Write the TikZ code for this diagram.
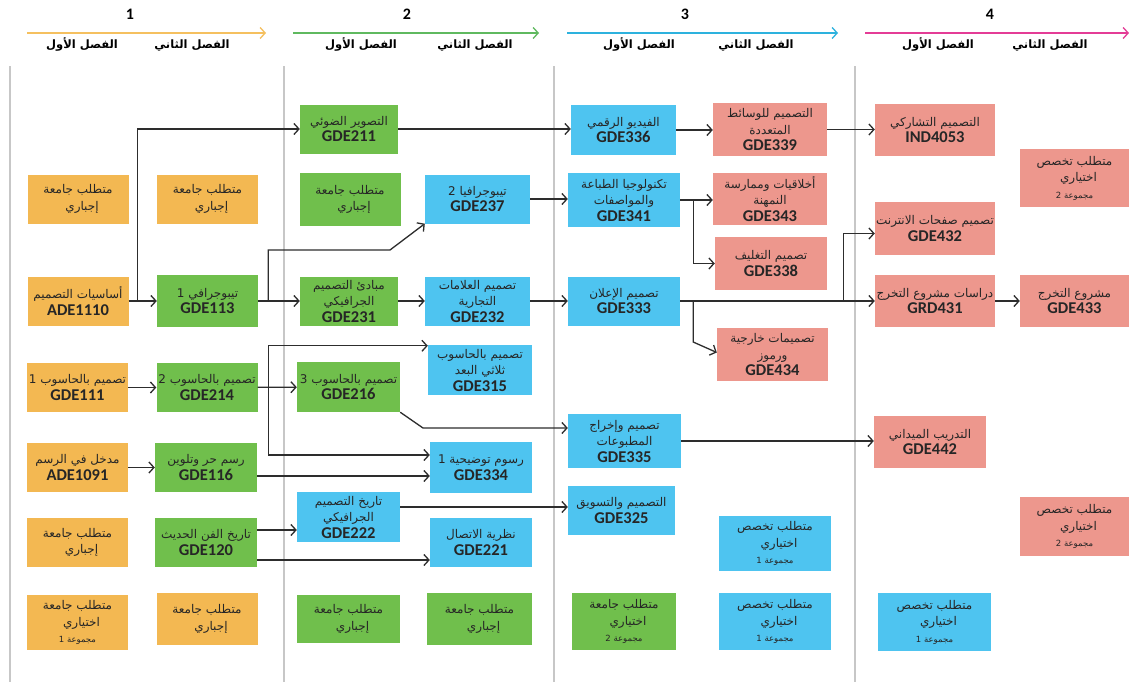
\documentclass[tikz,border=0pt]{standalone}
\usepackage{fontspec}
\setmainfont{DejaVu Sans}
\newfontfamily\arabicfont[Script=Arabic]{DejaVu Sans}
\newfontfamily\codefont{Carlito}
\usetikzlibrary{arrows.meta,positioning,calc}
\TeXXeTstate=1

\definecolor{yrone}{RGB}{243,184,82}
\definecolor{yrtwo}{RGB}{112,191,76}
\definecolor{yrthree}{RGB}{78,196,240}
\definecolor{yrfour}{RGB}{237,151,141}
\definecolor{hdrone}{RGB}{245,192,95}
\definecolor{hdrtwo}{RGB}{95,185,95}
\definecolor{hdrthree}{RGB}{45,178,222}
\definecolor{hdrfour}{RGB}{228,60,150}
\definecolor{linegray}{RGB}{45,45,45}

\newcommand\ar[1]{\hbox{\arabicfont\beginR #1\endR}}
% lines that end in a tailed final yeh
\newcommand\art[1]{\hbox{\kern8pt\arabicfont\beginR #1\endR}}
\newcommand\grp[1]{\hbox{\arabicfont\fontsize{8.5}{10}\selectfont\beginR #1\endR}}
\newcommand\code[1]{\hbox{\codefont\bfseries\fontsize{16.5}{17}\selectfont #1}}

\begin{document}
\begin{tikzpicture}[
  x=1pt, y=-1pt,
  font=\fontsize{12}{16.5}\selectfont,
  block/.style={minimum width=101pt, minimum height=49pt, align=center, inner sep=1pt, text=black!85},
  yone/.style={block, fill=yrone},
  ytwo/.style={block, fill=yrtwo},
  ythree/.style={block, fill=yrthree},
  yfour/.style={block, fill=yrfour},
  line/.style={draw=linegray, line width=1.3pt},
  arrow/.style={line, -{Straight Barb[length=5pt,width=11pt]}},
  hdr/.style={line width=1.3pt, -{Straight Barb[length=5pt,width=11pt]}},
  year/.style={font=\codefont\bfseries\fontsize{16}{16}\selectfont},
  term/.style={font=\arabicfont\bfseries\fontsize{11.5}{13}\selectfont, text height=9pt, text depth=3pt},
  sep/.style={draw=black!22, line width=1.2pt}
]
\useasboundingbox (0,0) rectangle (1129,688);
\fill[white] (0,0) rectangle (1129,688);

% ----- YEARS AND TERMS -----
\node[year] (n1) at (130,14) {1};
\node[year] (n2) at (407,14) {2};
\node[year] (n3) at (685,14) {3};
\node[year] (n4) at (990,14) {4};
\coordinate (s1) at (27,33);  \coordinate (t1) at (266,33);
\coordinate (s2) at (293,33); \coordinate (t2) at (539,33);
\coordinate (s3) at (567,33); \coordinate (t3) at (838,33);
\coordinate (s4) at (865,33); \coordinate (t4) at (1129,33);
\draw[hdr, draw=hdrone] (s1) -- (t1);
\draw[hdr, draw=hdrtwo] (s2) -- (t2);
\draw[hdr, draw=hdrthree] (s3) -- (t3);
\draw[hdr, draw=hdrfour] (s4) -- (t4);
\node[term] (f1a) at (82,45) {\ar{الفصل الأول}};
\node[term] (f1b) at (192,45) {\ar{الفصل الثاني}};
\node[term] (f2a) at (361,45) {\ar{الفصل الأول}};
\node[term] (f2b) at (475,45) {\ar{الفصل الثاني}};
\node[term] (f3a) at (639,45) {\ar{الفصل الأول}};
\node[term] (f3b) at (756,45) {\ar{الفصل الثاني}};
\node[term] (f4a) at (938,45) {\ar{الفصل الأول}};
\node[term] (f4b) at (1050,45) {\ar{الفصل الثاني}};

% ----- COLUMN SEPARATORS -----
\foreach \x in {10,284,554,855}
  \draw[sep] (\x,66) -- (\x,682);

% ----- YEAR 1 -----
\node[yone] (a1) at (78,199) {\ar{متطلب جامعة}\\\art{إجباري}};
\node[yone] (b1) at (207.5,199) {\ar{متطلب جامعة}\\\art{إجباري}};
\node[yone] (a2) at (78,301) {\ar{أساسيات التصميم}\\\code{ADE1110}};
\node[ytwo, minimum height=52pt] (b2) at (207.5,301) {\ar{تيبوجرافي 1}\\\code{GDE113}};
\node[yone] (a3) at (77.5,387.5) {\ar{تصميم بالحاسوب 1}\\\code{GDE111}};
\node[ytwo] (b3) at (207,387.5) {\ar{تصميم بالحاسوب 2}\\\code{GDE214}};
\node[yone] (a4) at (77.5,467.5) {\ar{مدخل في الرسم}\\\code{ADE1091}};
\node[ytwo, minimum width=102pt] (b4) at (206,467.5) {\ar{رسم حر وتلوين}\\\code{GDE116}};
\node[yone] (a5) at (77.5,542.5) {\ar{متطلب جامعة}\\\art{إجباري}};
\node[ytwo, minimum width=102pt] (b5) at (206,542.5) {\ar{تاريخ الفن الحديث}\\\code{GDE120}};
\node[yone, minimum height=55pt] (a6) at (77.5,622.5) {\ar{متطلب جامعة}\\\art{اختياري}\\\grp{مجموعة 1}};
\node[yone, minimum height=52pt] (b6) at (207,619) {\ar{متطلب جامعة}\\\art{إجباري}};

% ----- YEAR 2 -----
\node[ytwo, minimum width=98pt] (c1) at (349,129) {\ar{التصوير الضوئي}\\\code{GDE211}};
\node[ytwo, minimum height=53pt] (c2) at (350,199.5) {\ar{متطلب جامعة}\\\art{إجباري}};
\node[ythree, minimum width=105pt] (d2) at (477.5,199) {\ar{تيبوجرافيا 2}\\\code{GDE237}};
\node[ytwo, minimum width=98pt] (c3) at (349,301) {\ar{مبادئ التصميم}\\\ar{الجرافيكي}\\\code{GDE231}};
\node[ythree, minimum width=105pt] (d3) at (477.5,301) {\ar{تصميم العلامات}\\\ar{التجارية}\\\code{GDE232}};
\node[ythree, minimum width=104pt, minimum height=50pt] (d4) at (480,370) {\ar{تصميم بالحاسوب}\\\ar{ثلاثي البعد}\\\code{GDE315}};
\node[ytwo, minimum width=103pt, minimum height=50pt] (c4) at (348.5,387) {\ar{تصميم بالحاسوب 3}\\\code{GDE216}};
\node[ythree, minimum width=102pt, minimum height=51pt] (d5) at (481,467.5) {\ar{رسوم توضيحية 1}\\\code{GDE334}};
\node[ythree, minimum width=103pt, minimum height=50pt] (c5) at (348.5,517) {\ar{تاريخ التصميم}\\\ar{الجرافيكي}\\\code{GDE222}};
\node[ythree, minimum width=102pt] (d6) at (481,542.5) {\ar{نظرية الاتصال}\\\code{GDE221}};
\node[ytwo, minimum width=103pt, minimum height=48pt] (c6) at (348.5,619) {\ar{متطلب جامعة}\\\art{إجباري}};
\node[ytwo, minimum width=105pt, minimum height=52pt] (d7) at (479.5,619) {\ar{متطلب جامعة}\\\art{إجباري}};

% ----- YEAR 3 -----
\node[ythree, minimum width=105pt, minimum height=50pt] (e1) at (623.5,130) {\ar{الفيديو الرقمي}\\\code{GDE336}};
\node[yfour, minimum width=114pt, minimum height=53pt] (f1) at (770,129.5) {\ar{التصميم للوسائط}\\\ar{المتعددة}\\\code{GDE339}};
\node[ythree, minimum width=112pt, minimum height=54pt] (e2) at (624,200) {\ar{تكنولوجيا الطباعة}\\\ar{والمواصفات}\\\code{GDE341}};
\node[yfour, minimum width=114pt, minimum height=52pt] (f2) at (770,199) {\ar{أخلاقيات وممارسة}\\\ar{النمهنة}\\\code{GDE343}};
\node[yfour, minimum width=112pt, minimum height=53pt] (f3) at (771,263.5) {\ar{تصميم التغليف}\\\code{GDE338}};
\node[ythree, minimum width=112pt] (e3) at (624,301) {\ar{تصميم الإعلان}\\\code{GDE333}};
\node[yfour, minimum width=111pt, minimum height=53pt] (f4) at (772.5,354.5) {\ar{تصميمات خارجية}\\\ar{ورموز}\\\code{GDE434}};
\node[ythree, minimum width=113pt, minimum height=54pt] (e4) at (624.5,441) {\ar{تصميم وإخراج}\\\ar{المطبوعات}\\\code{GDE335}};
\node[ythree, minimum width=107pt] (e5) at (621.5,510.5) {\ar{التصميم والتسويق}\\\code{GDE325}};
\node[ythree, minimum width=112pt, minimum height=55pt] (f5) at (775,543.5) {\ar{متطلب تخصص}\\\art{اختياري}\\\grp{مجموعة 1}};
\node[ytwo, minimum width=104pt, minimum height=57pt] (e6) at (624,621.5) {\ar{متطلب جامعة}\\\art{اختياري}\\\grp{مجموعة 2}};
\node[ythree, minimum width=112pt, minimum height=57pt] (f6) at (775,621.5) {\ar{متطلب تخصص}\\\art{اختياري}\\\grp{مجموعة 1}};

% ----- YEAR 4 -----
\node[yfour, minimum width=120pt, minimum height=52pt] (g1) at (935,130) {\ar{التصميم التشاركي}\\\code{IND4053}};
\node[yfour, minimum width=109pt, minimum height=58pt] (h1) at (1074.5,178) {\ar{متطلب تخصص}\\\art{اختياري}\\\grp{مجموعة 2}};
\node[yfour, minimum width=120pt, minimum height=53pt] (g2) at (935,228.5) {\ar{تصميم صفحات الانترنت}\\\code{GDE432}};
\node[yfour, minimum width=120pt, minimum height=52pt] (g3) at (935,301) {\ar{دراسات مشروع التخرج}\\\code{GRD431}};
\node[yfour, minimum width=109pt, minimum height=52pt] (h3) at (1074.5,301) {\ar{مشروع التخرج}\\\code{GDE433}};
\node[yfour, minimum width=112pt, minimum height=52pt] (g4) at (930,442) {\ar{التدريب الميداني}\\\code{GDE442}};
\node[yfour, minimum width=109pt, minimum height=59pt] (h4) at (1074.5,526.5) {\ar{متطلب تخصص}\\\art{اختياري}\\\grp{مجموعة 2}};
\node[ythree, minimum width=113pt, minimum height=58pt] (g5) at (934.5,622) {\ar{متطلب تخصص}\\\art{اختياري}\\\grp{مجموعة 1}};

% ----- FROM YEAR 1 -----
\draw[arrow] (a2) -- (b2);
\draw[arrow] (a3) -- (b3);
\draw[arrow] (a4) -- (b4);
\coordinate (j1) at ($(a2.east)+(9,0)$);
\draw[arrow] (j1) |- (c1);
\draw[arrow] (b2) -- (c3);
\coordinate (j2) at ($(b2.east)+(10,0)$);
\coordinate (k2) at (390,250);
\draw[arrow] (j2) |- (k2) -- (d2.south west);
\draw[arrow] (b3) -- (c4);
\coordinate (j3) at ($(b3.east)+(11,0)$);
\draw[arrow] (j3) |- ([yshift=-1pt]d4.north west);
\draw[arrow] (j3) |- ([yshift=12.5pt]d5.west);
\draw[arrow] ([yshift=-8.5pt]b4.east) -- ([yshift=-8.5pt]d5.west);
\draw[arrow] ([yshift=12.5pt]b5.east) -- ([yshift=-13pt]c5.west);
\draw[arrow] ([yshift=-17.5pt]b5.east) -- ([yshift=-17.5pt]d6.west);

% ----- FROM YEAR 2 -----
\draw[arrow] (c1) -- (c1 -| e1.west);
\draw[arrow] (d2) -- (d2 -| e2.west);
\draw[arrow] (c3) -- (d3);
\draw[arrow] (d3) -- (e3);
\coordinate (k4) at (423,428);
\draw[arrow] (c4.south east) -- (k4) -- ([yshift=13pt]e4.west);
\draw[arrow] ([yshift=10pt]c5.east) -- ([yshift=3.5pt]e5.west);

% ----- FROM YEAR 3 -----
\draw[arrow] (e1) -- (e1 -| f1.west);
\draw[arrow] (e2) -- (e2 -| f2.west);
\coordinate (j5) at ($(e2.east)+(13,0)$);
\draw[arrow] (j5) |- (f3);
\draw[arrow] (e3) -- (g3);
\coordinate (j6) at ($(e3.east)+(13,0)$);
\coordinate (k6) at ($(j6)+(0,41)$);
\draw[arrow] (j6) -- (k6) -- ([yshift=2pt]f4.west);
\coordinate (j7) at ($(g3.west)+(-31,0)$);
\draw[arrow] (j7) |- ([yshift=-5pt]g2.west);
\draw[arrow] (f1) -- (f1 -| g1.west);
\draw[arrow] (e4) -- (e4 -| g4.west);

% ----- YEAR 4 -----
\draw[arrow] (g3) -- (h3);

\end{tikzpicture}
\end{document}
